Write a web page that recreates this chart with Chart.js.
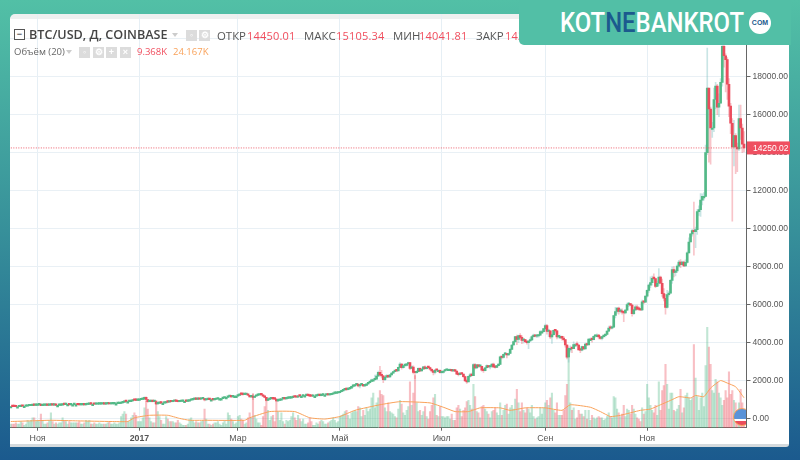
<!DOCTYPE html>
<html lang="ru"><head><meta charset="utf-8">
<script src="https://cdn.jsdelivr.net/npm/chart.js@4/dist/chart.umd.min.js"></script>
<style>
html,body{margin:0;padding:0;width:800px;height:460px;overflow:hidden;background:linear-gradient(#52c0a6 0,#37909a 50%,#1b5a8e 100%);font-family:"Open Sans",sans-serif}
#panel{position:absolute;left:10px;top:14px;width:779px;height:425px;background:#fff;border-top:5px solid #eef0f0;border-bottom:3px solid #d5dadd;border-top-left-radius:5px;border-bottom-right-radius:3px}
#c{position:absolute;left:0;top:0}
.t{position:absolute;white-space:nowrap}
.b{position:absolute;background:#dcdcdc;width:11px;height:11px;color:#fff;font:bold 9px/11px "Liberation Sans";text-align:center}
#banner{position:absolute;left:519px;top:0;width:272px;height:45px;background:#52bfa6;border-bottom-left-radius:5px}
#logo{position:absolute;left:560px;top:7px;font:500 27.5px/32px Roboto;color:#fff;transform:scaleX(.868);transform-origin:0 0;white-space:nowrap}
#logo b{font-weight:500;color:#1b5a8e}
#com{position:absolute;left:749px;top:12px;width:22px;height:22px;border-radius:50%;background:#fff;color:#1b5a8e;font:bold 7px/22px "Liberation Sans";text-align:center}
#flag{position:absolute;left:730px;top:406px;width:16px;height:22px;overflow:hidden}
#flag i{position:absolute;left:3px;top:2px;width:16px;height:16px;border:1.5px solid #f9a25a;border-radius:50%;background:linear-gradient(#5a93d8 0,#5a93d8 62%,#fff 62%,#fff 72%,#eb4d5c 72%,#eb4d5c 100%)}
.l{font-size:11.4px;line-height:17px;color:#555;top:27px}
.n{font-size:11px;line-height:17px;color:#f04d5d;letter-spacing:.2px;top:27px}
</style></head><body>
<div id="panel"></div>
<canvas id="c" width="800" height="460"></canvas>
<div class="b" style="left:14px;top:29px;background:#fff;border:1px solid #555;width:9px;height:9px;color:#555;line-height:8px">−</div>
<div class="t" style="left:29px;top:26px;font-size:12.6px;line-height:18px;font-weight:600;color:#444">BTC/USD, Д, COINBASE</div>
<div class="t" style="left:172px;top:33px;border:3px solid transparent;border-top:4px solid #ccc"></div>
<div class="b" style="left:186px;top:30px">◦</div><div class="b" style="left:199px;top:30px">⚙</div>
<div class="t l" style="left:217px">ОТКР</div>
<div class="t n" style="left:247px">14450.01</div>
<div class="t l" style="left:304px">МАКС</div>
<div class="t n" style="left:336px">15105.34</div>
<div class="t l" style="left:393px">МИН</div>
<div class="t n" style="left:419px">14041.81</div>
<div class="t l" style="left:476px">ЗАКР</div>
<div class="t n" style="left:505px">14250.02</div>
<div class="t" style="left:14px;top:45px;font-size:9.5px;line-height:14px;color:#666">Объём (20)</div>
<div class="t" style="left:66px;top:50px;border:3px solid transparent;border-top:4px solid #ccc"></div>
<div class="b" style="left:79px;top:47px">◦</div><div class="b" style="left:93px;top:47px">⚙</div><div class="b" style="left:106px;top:47px">+</div><div class="b" style="left:120px;top:47px">×</div>
<div class="t" style="left:137px;top:45px;font-size:9.5px;line-height:14px;color:#f04d5d">9.368K</div>
<div class="t" style="left:173px;top:45px;font-size:9.5px;line-height:14px;color:#f9a25a">24.167K</div>
<div id="flag"><i></i></div>
<div id="banner"></div>
<div id="logo">KOT<b>NE</b>BANKROT</div>
<div id="com">COM</div>
<script>
const firstDay = "2016-10-16";
const firstOpen = 640;
const lastPrice = 14250.02;
const yTickValues = [0,2000,4000,6000,8000,10000,12000,14000,16000,18000,20000];
const xTickIndex = [16,77,136,197,258,320,381];
const xTickLabels = ["Ноя","2017","Мар","Май","Июл","Сен","Ноя"];
const closes = [
640,638,637,630,630,632,657,655,655,657,680,683,690,715,698,700,
730,740,688,702,705,712,703,710,720,712,715,703,703,705,712,745,738,750,750,730,738,738,740,740,735,728,730,732,730,745,
755,775,770,770,760,762,765,770,772,775,770,780,782,775,778,782,790,790,792,798,830,862,915,895,895,898,930,975,970,960,968,
998,1015,1030,1130,1010,895,900,910,900,905,780,810,825,820,820,828,905,870,900,890,920,925,915,890,905,915,920,920,915,925,970,
990,1015,1030,1020,1040,1025,1050,1055,985,1000,1010,1000,1000,990,1010,1035,1055,1055,1055,1090,1125,1125,1170,1180,1150,1190,1190,1190,
1225,1285,1280,1270,1275,1280,1235,1150,1190,1115,1180,1230,1245,1260,1255,1180,1120,960,1020,1040,1115,1040,1030,935,965,970,1040,1045,1040,1070,1080,
1085,1110,1150,1140,1130,1195,1190,1190,1210,1210,1225,1215,1185,1180,1185,1185,1210,1220,1210,1240,1245,1245,1250,1245,1260,1285,1330,1335,1350,1365,
1420,1460,1520,1540,1530,1570,1600,1700,1720,1780,1820,1720,1780,1790,1725,1750,1830,1890,1960,2050,2050,2080,2240,2440,2310,2250,2060,2180,2270,2200,2310,
2400,2480,2530,2520,2700,2870,2690,2790,2810,2880,2950,2650,2720,2440,2420,2480,2650,2520,2600,2730,2630,2700,2690,2600,2520,2430,2560,2550,2550,2420,
2430,2510,2550,2600,2600,2600,2510,2560,2500,2340,2320,2400,2350,2210,1990,1930,2230,2310,2270,2850,2670,2830,2750,2760,2560,2530,2680,2800,2720,2750,2870,
2720,2700,2790,2860,3250,3220,3390,3420,3350,3430,3650,3880,4060,4320,4170,4380,4280,4120,4160,4060,4000,4090,4140,4320,4360,4340,4350,4400,4580,4580,4740,
4900,4590,4620,4300,4420,4650,4620,4310,4330,4330,4240,4160,3880,3240,3700,3700,3690,3900,3900,3880,3620,3610,3790,3670,3930,3880,4190,4190,4160,4340,
4400,4400,4310,4220,4320,4370,4430,4610,4770,4760,4820,5430,5640,5820,5650,5680,5600,5570,5710,6000,6020,5980,5530,5730,5890,5770,5750,5720,6150,6130,6450,
6750,7030,7160,7390,7370,6960,7130,7450,7130,6580,6340,5860,6530,6600,7280,7850,7700,7780,8030,8240,8100,8240,8040,8230,8730,9300,9730,9900,9840,9950,
10900,11000,11500,11700,11700,14000,17400,16300,15300,15300,16800,17500,16400,16600,17700,19600,19100,18900,17600,16450,15550,14300,14900,14300,14200,15800,15300,14450,14250];
const highs = [
645,642,641,640,634,636,660,660,660,660,682,688,695,720,718,705,
738,745,745,708,710,716,716,714,745,722,718,716,706,710,716,752,748,758,756,752,742,745,745,748,742,738,735,738,736,750,
760,780,778,775,772,766,770,772,775,778,778,782,788,782,780,785,795,793,795,802,835,870,935,925,902,905,935,980,985,975,972,
1005,1030,1040,1150,1150,1020,915,918,915,915,910,825,838,835,828,835,910,910,905,900,925,935,925,920,910,920,925,925,922,930,975,
995,1020,1035,1035,1045,1045,1055,1065,1075,1005,1015,1012,1005,1010,1012,1040,1060,1065,1060,1095,1130,1130,1180,1210,1185,1195,1198,1200,
1235,1290,1295,1285,1280,1285,1280,1240,1195,1330,1190,1240,1250,1265,1262,1260,1185,1125,1060,1060,1125,1120,1050,1035,975,1010,1045,1065,1055,1080,1090,
1090,1120,1165,1160,1145,1200,1200,1198,1215,1218,1228,1222,1220,1190,1190,1190,1215,1225,1225,1245,1250,1250,1255,1255,1265,1295,1340,1350,1355,1370,
1430,1480,1540,1600,1620,1590,1620,1720,1780,1800,1850,1830,1800,1810,1800,1780,1850,1900,2000,2080,2100,2290,2320,2500,2760,2540,2270,2210,2320,2300,2320,
2440,2490,2550,2560,2710,2950,2900,2800,2840,2920,2980,2970,2780,2780,2490,2550,2680,2680,2660,2760,2780,2720,2720,2720,2640,2530,2580,2600,2590,2570,
2470,2530,2590,2620,2620,2630,2600,2570,2560,2500,2400,2420,2420,2350,2240,2060,2240,2390,2400,2900,2900,2850,2860,2790,2770,2610,2690,2830,2810,2760,2890,
2930,2760,2800,2900,3300,3280,3400,3490,3430,3450,3700,3900,4100,4330,4400,4400,4480,4370,4190,4180,4080,4130,4250,4370,4450,4380,4390,4420,4640,4650,4750,
4980,4970,4720,4640,4450,4680,4680,4650,4350,4400,4350,4330,4170,3900,3780,3830,3760,4040,3960,4040,3900,3650,3820,3790,3980,3980,4220,4240,4210,4370,
4410,4470,4440,4360,4340,4400,4450,4620,4880,4900,4880,5450,5860,5850,5870,5780,5780,5620,5750,6080,6120,6060,6030,5750,5980,5980,5890,5800,6240,6200,6470,
6780,7080,7460,7500,7620,7400,7240,7900,7500,7350,6850,6550,6750,6720,7330,7990,8000,7830,8100,8330,8370,8300,8300,8360,8780,9520,9740,9970,11400,10080,
11000,11200,11850,11830,11900,14400,19500,17300,16400,15600,17400,17700,17600,17100,17900,19700,19850,19200,19000,17900,16600,15800,15700,15000,14500,16500,16500,15500,15105];
const lows = [
635,634,632,625,626,628,630,650,650,652,655,675,680,688,690,692,
698,725,682,685,698,700,698,700,705,708,708,698,695,698,703,710,728,735,742,725,726,730,735,735,725,720,722,725,726,728,
740,755,765,762,755,755,758,765,768,770,765,768,775,772,772,776,780,785,788,788,798,828,860,875,885,888,895,930,950,948,950,
960,995,1010,1025,900,850,880,885,880,890,750,770,805,808,810,815,825,860,865,880,885,905,890,880,885,900,910,910,910,910,918,
965,985,1010,1005,1010,1020,1020,1040,935,980,995,990,990,985,985,1008,1030,1045,1045,1050,1085,1110,1125,1115,1120,1145,1180,1175,
1185,1220,1240,1235,1260,1245,1220,1130,1135,1000,1110,1175,1210,1240,1245,1170,1090,935,955,1015,1040,1025,1020,920,890,945,965,1020,1025,1025,1060,
1070,1075,1105,1130,1115,1125,1170,1175,1180,1200,1205,1205,1165,1170,1175,1170,1180,1205,1205,1205,1230,1220,1235,1235,1240,1255,1285,1310,1325,1340,
1360,1405,1450,1490,1470,1520,1550,1590,1650,1690,1770,1675,1620,1750,1680,1680,1740,1790,1880,1950,1980,2020,2080,2240,2280,2150,1900,2000,2150,2160,2170,
2290,2380,2460,2470,2510,2690,2600,2660,2730,2770,2810,2580,2620,2360,2100,2380,2450,2480,2500,2590,2600,2600,2640,2560,2450,2300,2350,2500,2520,2400,
2400,2390,2500,2550,2550,2590,2490,2480,2490,2320,2250,2300,2330,2170,1980,1850,1930,2180,2250,2260,2620,2640,2700,2700,2500,2430,2520,2660,2690,2620,2700,
2680,2660,2700,2780,2860,3150,3190,3340,3200,3330,3420,3640,3860,4020,3900,4000,4210,3950,3970,4020,3920,3680,4060,4100,4300,4300,4260,4290,4370,4510,4550,
4680,4450,4320,4210,3960,4400,4500,4200,4240,4230,4130,4080,3760,3140,2970,3500,3480,3680,3840,3850,3600,3470,3570,3640,3660,3850,3890,4150,4030,4150,
4280,4360,4200,4170,4150,4280,4300,4410,4580,4700,4730,4800,5300,5560,5500,5570,5500,5100,5520,5700,5900,5950,5400,5480,5680,5720,5700,5680,5680,6050,6100,
6400,6650,6900,7030,7300,6900,6950,7020,7100,6440,6200,5500,5820,6450,6590,7120,7460,7520,7690,7990,7950,8080,8000,8010,8180,8720,9310,9610,8600,9000,
9700,10700,10650,11250,11500,11680,13900,13500,13400,14800,15100,16300,16000,15900,16600,17500,18500,17200,16800,15900,15000,10400,13300,12900,13000,14100,14700,14000,14041];
const volumes = [
3,3,3,4,3,3,5,4,2,3,6,5,6,8,8,5,
6,5,11,6,3,3,4,6,12,5,3,4,3,4,4,8,6,5,3,5,4,4,4,4,4,5,3,3,4,6,
5,6,3,3,4,3,3,4,3,3,3,3,4,5,3,3,4,3,3,4,9,11,13,11,5,5,8,10,12,10,5,
5,5,8,16,21,15,8,5,4,4,22,13,9,6,3,3,9,7,5,5,5,4,4,6,4,3,2,2,2,3,7,
8,6,4,5,4,4,5,6,15,7,3,3,2,3,4,4,5,3,2,4,6,3,12,10,7,5,3,4,
9,10,7,6,3,4,8,12,8,27,10,7,4,4,2,9,17,22,14,6,9,10,5,23,13,6,12,5,3,6,5,
6,9,12,8,6,10,7,5,7,3,3,4,8,5,2,2,4,3,5,6,5,3,3,4,5,6,8,6,4,5,
9,10,11,13,14,10,7,12,13,14,13,17,16,9,14,10,16,13,15,24,28,16,20,24,30,27,26,16,13,20,13,
12,11,9,8,15,22,19,12,10,14,17,37,18,28,42,20,13,14,10,13,17,9,7,13,18,24,27,10,9,17,
9,9,8,9,9,7,11,6,6,16,18,15,9,14,16,21,22,18,15,35,25,13,12,8,17,18,15,13,11,8,13,
14,16,12,10,20,10,14,18,19,11,16,18,15,23,31,20,13,20,14,12,16,15,12,18,9,7,8,9,16,11,16,
20,22,18,24,28,14,12,20,10,10,10,14,26,35,56,20,14,16,7,8,14,11,11,9,14,7,14,6,10,8,
7,8,9,8,8,6,7,9,12,9,8,25,24,15,12,9,11,18,9,15,14,11,18,15,11,8,7,5,16,11,13,
35,24,18,14,12,18,10,37,14,30,34,51,35,15,28,28,14,13,15,18,31,12,16,26,28,24,22,24,67,40,
25,14,24,28,17,50,81,65,51,30,28,39,37,28,24,18,22,30,24,45,27,30,22,20,14,20,31,20,9.368];
const maIndex = [0,12,24,40,60,70,74,83,94,101,107,116,140,143,155,170,179,188,197,206,221,233,251,260,266,274,281,293,299,308,320,330,335,347,353,359,365,377,383,389,395,400,407,410,415,419,425,429,434,439];
const maValues = [5,5.5,6,5.5,5,5,8,10,10,7.5,6,6,6,8,13,13,8,7,9,14,18.5,21,20,16,13,13,16,16,14,16,16,14,18.5,16.5,13,9,10,14,15,18.5,22,25,24,26,25,32,38,36,33,24.167];

const UP="#53b987",DOWN="#eb4d5c";
const categories=[];
{const d=new Date(firstDay+"T00:00:00Z");for(let i=0;i<=closes.length;i++){categories.push(d.toISOString().slice(0,10));d.setUTCDate(d.getUTCDate()+1);}}
const opens=closes.map((c,i)=>i?closes[i-1]:firstOpen);
const isUp=closes.map((c,i)=>c>=opens[i]);
const maLine=categories.map(()=>null);maIndex.forEach((k,i)=>maLine[k]=maValues[i]);

const tagPlugin={id:"lastTag",afterDraw(ch){
  const g=ch.ctx,y=ch.scales.y.getPixelForValue(lastPrice),x=ch.chartArea.right;
  g.save();g.fillStyle="#ef4f60";g.fillRect(x+.5,y-6.5,43,13);
  g.fillStyle="#fff";g.font='8.5px "Liberation Sans"';g.textAlign="left";g.textBaseline="middle";
  g.fillText(lastPrice.toFixed(2),x+6.5,y+.5);g.restore();
}};
new Chart(document.getElementById("c"),{
  type:"bar",
  plugins:[tagPlugin],
  data:{labels:categories,datasets:[
    {type:"line",label:"Последняя цена",data:categories.map(()=>lastPrice),yAxisID:"y",borderColor:"rgba(235,77,92,.9)",borderWidth:1,borderDash:[1,1.5],pointRadius:0,order:0},
    {label:"Тело",data:closes.map((c,i)=>[opens[i],c]),yAxisID:"y",backgroundColor:isUp.map(u=>u?UP:DOWN),barThickness:2,minBarLength:1.5,order:1},
    {label:"Тень",data:closes.map((c,i)=>[lows[i],highs[i]]),yAxisID:"y",backgroundColor:isUp.map(u=>u?"rgba(120,190,190,.4)":"rgba(235,77,92,.33)"),barThickness:1,order:2},
    {type:"line",label:"Объём MA (20)",data:maLine,yAxisID:"v",spanGaps:true,borderColor:"#f9a25a",borderWidth:1,pointRadius:0,tension:.15,order:3},
    {label:"Объём",data:volumes,yAxisID:"v",backgroundColor:isUp.map(u=>u?"rgba(83,185,135,.36)":"rgba(235,77,92,.36)"),barThickness:1.45,order:4}
  ]},
  options:{
    responsive:false,animation:false,events:[],
    layout:{padding:{left:10,top:14,right:0,bottom:0}},
    datasets:{bar:{grouped:false}},
    plugins:{legend:{display:false},title:{display:false},tooltip:{enabled:false}},
    scales:{
      x:{type:"category",offset:true,
        afterFit(s){s.height=32.3;},
        afterBuildTicks(s){s.ticks=xTickIndex.map(v=>({value:v}));},
        grid:{offset:false,color:"#e6eff5",tickColor:"#666",tickLength:3},
        border:{color:"#666",width:1},
        ticks:{autoSkip:false,maxRotation:0,padding:3,color:"#555",
          font:c=>({family:"Liberation Sans",size:8.8,weight:xTickLabels[c.index]==="2017"?"bold":"normal"}),
          callback:v=>xTickLabels[xTickIndex.indexOf(v)]}
      },
      y:{position:"right",min:-474,max:21299,
        afterFit(s){s.width=53.5;},
        afterBuildTicks(s){s.ticks=yTickValues.map(v=>({value:v}));},
        grid:{color:"#e9f0f5",tickColor:"#666",tickLength:4},
        border:{color:"#666",width:1},
        ticks:{padding:2,color:"#555",font:{family:"Liberation Sans",size:8.5},callback:v=>v.toFixed(2)}
      },
      v:{display:false,min:0,max:333.6}
    }
  }
});
</script>
</body></html>
